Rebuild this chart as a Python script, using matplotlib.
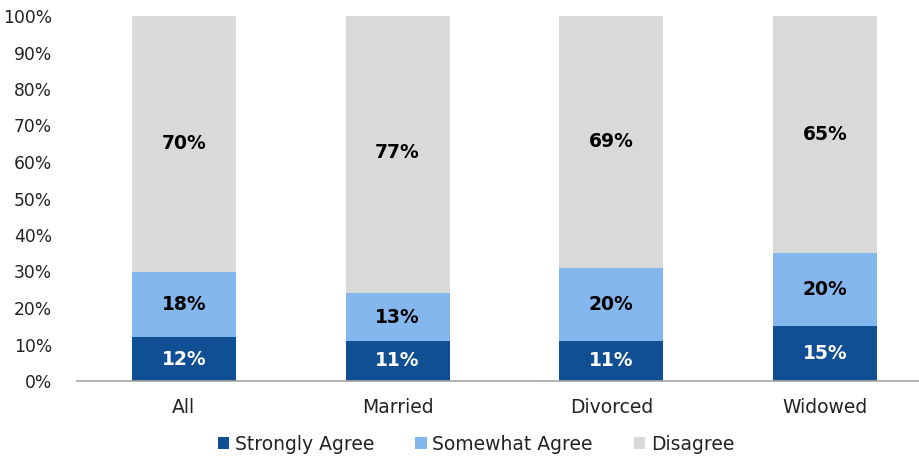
import matplotlib
matplotlib.use("Agg")
import matplotlib.pyplot as plt
import numpy as np

categories = ["All", "Married", "Divorced", "Widowed"]
strongly_agree = [12, 11, 11, 15]
somewhat_agree = [18, 13, 20, 20]
disagree = [70, 77, 69, 65]
series_names = ["Strongly Agree", "Somewhat Agree", "Disagree"]
colors = ["#114F95", "#85B7EF", "#D9D9D9"]
label_colors = ["white", "black", "black"]
yticks = list(range(0, 101, 10))

plt.rcParams['font.family'] = ['DejaVu Sans']

fig = plt.figure(figsize=(9.2, 4.59), dpi=100)
ax = fig.add_axes([77/920, 1 - 381/459, 855/920, 365/459])

x = np.arange(len(categories))
bottom = np.zeros(len(categories))
for vals, name, c, lc in zip([strongly_agree, somewhat_agree, disagree], series_names, colors, label_colors):
    vals = np.array(vals, dtype=float)
    bars = ax.bar(x, vals, width=0.487, bottom=bottom, color=c, label=name, edgecolor='none')
    for xi, b, v in zip(x, bottom, vals):
        ax.text(xi, b + v / 2, f"{int(v)}%", ha='center', va='center', color=lc,
                fontsize=13.5, fontweight='bold')
    bottom += vals

ax.set_xlim(-0.5, 3.5)
ax.set_ylim(0, 100)
ax.set_yticks(yticks)
ax.set_yticklabels([f"{t}%" for t in yticks], fontsize=12.3, color='#222222')
ax.set_xticks(x)
ax.set_xticklabels(categories, fontsize=13.5, color='#222222')
ax.tick_params(axis='both', length=0)
ax.tick_params(axis='x', pad=12)
ax.tick_params(axis='y', pad=18)
for s in ['top', 'right', 'left']:
    ax.spines[s].set_visible(False)
ax.spines['bottom'].set_color('#A6A6A6')
ax.spines['bottom'].set_linewidth(1.2)

fig.legend(loc='center', bbox_to_anchor=(476/920, 1 - 444/459), ncol=3, frameon=False,
           fontsize=13.5, handlelength=0.6, handleheight=0.6, handletextpad=0.3,
           columnspacing=2.2, labelcolor='#222222')

fig.savefig("out.png", dpi=100)
